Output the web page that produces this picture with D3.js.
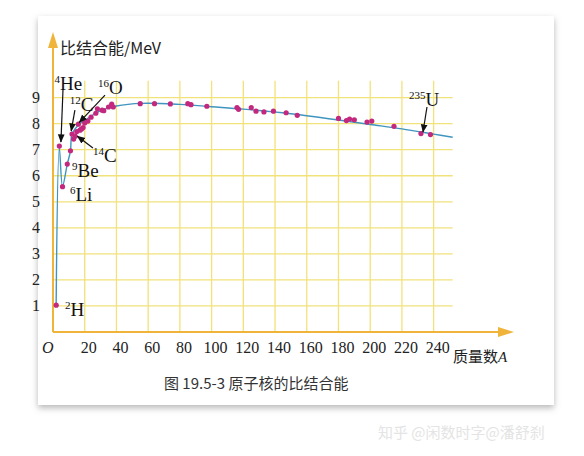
<!DOCTYPE html>
<html><head><meta charset="utf-8">
<script src="https://cdn.jsdelivr.net/npm/d3@7"></script>
<style>body{margin:0;background:#fff} .sf{font-family:"Liberation Serif","DejaVu Serif",serif}</style>
</head><body><div id="chart"></div>
<script>
// measured points (mass number A, binding energy per nucleon MeV)
var pointA = [2,4,6,9,11,12,13,14,15,16,17,18,19,20,22,24,27,28,31,32,35,37,38,55,64,74,85,87,97,116,117,125,128,133,139,147,154,180,185,187,190,198,201,215,232,238];
var pointE = [1.03,7.14,5.58,6.45,6.96,7.6,7.41,7.52,7.7,7.98,7.75,7.8,7.85,8.03,8.1,8.25,8.4,8.57,8.52,8.5,8.64,8.75,8.64,8.77,8.77,8.76,8.77,8.73,8.67,8.62,8.55,8.62,8.48,8.45,8.48,8.42,8.32,8.2,8.12,8.18,8.15,8.06,8.1,7.9,7.62,7.58];
// fitted curve
var curveA = [2,4,6,9,11,12,16,20,30,40,56,80,100,120,150,180,200,220,240,252];
var curveE = [1.1,7.07,5.6,6.45,6.95,7.6,7.95,8.12,8.5,8.68,8.78,8.74,8.65,8.56,8.38,8.14,7.97,7.8,7.6,7.48];
var xTicks = [20,40,60,80,100,120,140,160,180,200,220,240];
var yTicks = [1,2,3,4,5,6,7,8,9];
// annotations: [sup, text, A, E]
var labels = [["4","He",1.0,9.3],["12","C",10.6,8.48],["16","O",28.4,9.14],["14","C",25.2,6.53],["9","Be",12,5.95],["6","Li",10.7,5.03],["2","H",7.6,0.61],["235","U",224.5,8.68]];
var arrows = [[6.3,9.3,5,7.3],[13.8,8.52,11.5,7.72],[32.8,9.1,16.6,8.05],[25.2,7.07,15.4,7.52],[235.8,8.64,233.3,7.68]];

var W = 584, H = 456;
var svg = d3.select('#chart').append('svg').attr('width', W).attr('height', H);
var defs = svg.append('defs');
var f = defs.append('filter').attr('id', 'sh').attr('x', '-10%').attr('y', '-10%').attr('width', '120%').attr('height', '125%');
f.append('feDropShadow').attr('dx', 0).attr('dy', 3).attr('stdDeviation', 3).attr('flood-color', '#888').attr('flood-opacity', 0.6);
defs.append('marker').attr('id', 'ah').attr('viewBox', '0 0 10 10').attr('refX', 9).attr('refY', 5)
    .attr('markerWidth', 7).attr('markerHeight', 7).attr('orient', 'auto')
    .append('path').attr('d', 'M0,1L10,5L0,9z').attr('fill', '#111');

svg.append('rect').attr('x', 38).attr('y', 16).attr('width', 516).attr('height', 389)
    .attr('fill', '#fff').attr('filter', 'url(#sh)');

var x = d3.scaleLinear().domain([0, 240]).range([53, 53 + 240 * 1.586]);
var y = d3.scaleLinear().domain([0, 9]).range([332, 332 - 9 * 26.04]);

var grid = svg.append('g').attr('stroke', '#f2e27a').attr('stroke-width', 1.3);
xTicks.forEach(function(t) {
    grid.append('line').attr('x1', x(t)).attr('x2', x(t)).attr('y1', y(0)).attr('y2', y(9.65));
});
yTicks.forEach(function(t) {
    grid.append('line').attr('x1', x(0)).attr('x2', x(252)).attr('y1', y(t)).attr('y2', y(t));
});

// axes with arrows
var axc = '#f0b43a';
svg.append('line').attr('x1', x(0)).attr('x2', 500).attr('y1', y(0)).attr('y2', y(0)).attr('stroke', axc).attr('stroke-width', 2);
svg.append('path').attr('d', 'M498,' + (y(0) - 5) + 'L514,' + y(0) + 'L498,' + (y(0) + 5) + 'z').attr('fill', axc);
svg.append('line').attr('x1', x(0)).attr('x2', x(0)).attr('y1', y(0)).attr('y2', 46).attr('stroke', axc).attr('stroke-width', 2);
svg.append('path').attr('d', 'M' + (x(0) - 5) + ',48L' + x(0) + ',32L' + (x(0) + 5) + ',48z').attr('fill', axc);

svg.selectAll('.xt').data(xTicks).enter().append('text').attr('class', 'sf')
    .attr('x', function(d) { return x(d) + 4; }).attr('y', 353).attr('text-anchor', 'middle')
    .attr('font-size', 16).attr('fill', '#222').text(function(d) { return d; });
svg.selectAll('.yt').data(yTicks).enter().append('text').attr('class', 'sf')
    .attr('x', 36).attr('y', function(d) { return y(d) + 5; }).attr('text-anchor', 'middle')
    .attr('font-size', 16).attr('fill', '#222').text(function(d) { return d; });
svg.append('text').attr('class', 'sf').attr('x', 42).attr('y', 353).attr('font-style', 'italic')
    .attr('font-size', 16).attr('fill', '#222').text('O');

svg.append('text').attr('x', 60).attr('y', 54).attr('font-family', '"Noto Sans CJK SC", sans-serif')
    .attr('font-size', 16).attr('fill', '#222').text('比结合能/MeV');
var xl = svg.append('text').attr('x', 453).attr('y', 362).attr('font-family', '"Noto Sans CJK SC", sans-serif')
    .attr('font-size', 15).attr('fill', '#222');
xl.append('tspan').text('质量数');
xl.append('tspan').attr('class', 'sf').attr('font-style', 'italic').text('A');
svg.append('text').attr('x', 164).attr('y', 389).attr('font-family', '"Noto Sans CJK SC", sans-serif')
    .attr('font-size', 15).attr('fill', '#333').text('图 19.5-3  原子核的比结合能');
svg.append('text').attr('x', 378).attr('y', 438).attr('font-family', '"Noto Sans CJK SC", sans-serif')
    .attr('font-size', 15).attr('fill', '#e4e4e4').text('知乎 @闲数时字@潘舒刹');

// curve
var line = d3.line().x(function(d) { return x(d[0]); }).y(function(d) { return y(d[1]); }).curve(d3.curveCatmullRom);
svg.append('path').datum(curveA.map(function(a, i) { return [a, curveE[i]]; }))
    .attr('d', line).attr('fill', 'none').attr('stroke', '#3f95bf').attr('stroke-width', 1.4);

svg.selectAll('.pt').data(pointA.map(function(a, i) { return [a, pointE[i]]; })).enter().append('circle')
    .attr('cx', function(d) { return x(d[0]); }).attr('cy', function(d) { return y(d[1]); })
    .attr('r', 2.6).attr('fill', '#c3287f');

svg.selectAll('.ar').data(arrows).enter().append('line')
    .attr('x1', function(d) { return x(d[0]); }).attr('y1', function(d) { return y(d[1]); })
    .attr('x2', function(d) { return x(d[2]); }).attr('y2', function(d) { return y(d[3]); })
    .attr('stroke', '#111').attr('stroke-width', 1.2).attr('marker-end', 'url(#ah)');

labels.forEach(function(l) {
    var t = svg.append('text').attr('class', 'sf').attr('x', x(l[2])).attr('y', y(l[3])).attr('fill', '#111');
    t.append('tspan').attr('font-size', 11).attr('dy', -7).text(l[0]);
    t.append('tspan').attr('font-size', 19).attr('dy', 7).text(l[1]);
});
</script></body></html>
